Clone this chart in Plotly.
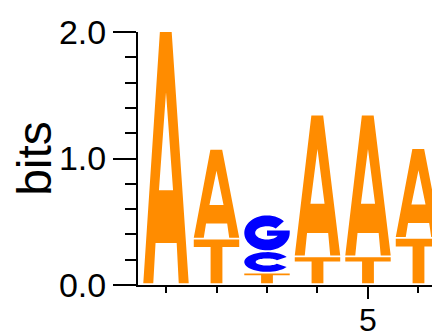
import numpy as np
import plotly.graph_objects as go

# ---- data (information content in bits, per position) ----
positions = [1, 2, 3, 4, 5, 6]
bits_A = [2.00, 0.71, 0.00, 1.12, 1.12, 0.71]
bits_T = [0.00, 0.36, 0.09, 0.22, 0.22, 0.365]
bits_C = [0.00, 0.00, 0.17, 0.00, 0.00, 0.00]
bits_G = [0.00, 0.00, 0.29, 0.00, 0.00, 0.00]
letter_colors = {"A": "#FF8C00", "T": "#FF8C00", "C": "#0000FF", "G": "#0000FF"}
y_tick_vals = [0.0, 1.0, 2.0]
x_tick_vals = [5]
y_title = "bits"

LETTER_W = 0.9
GAP = 0.014


def ellipse_pts(rx, ry, a0, a1, n=48):
    t = np.radians(np.linspace(a0, a1, n))
    return list(zip(0.5 + rx * np.cos(t), 0.5 + ry * np.sin(t)))


def glyph(letter):
    """Letter outline(s) in a unit box."""
    if letter == "A":
        return [[(0, 0), (0.365, 1), (0.625, 1), (1, 0), (0.78, 0), (0.735, 0.16),
                 (0.27, 0.16), (0.22, 0)],
                [(0.345, 0.37), (0.655, 0.37), (0.5, 0.76)]]
    if letter == "T":
        b = 0.83
        return [[(0.37, 0), (0.63, 0), (0.63, b), (1, b), (1, 1), (0, 1), (0, b), (0.37, b)]]
    if letter == "C":
        return [ellipse_pts(0.5, 0.5, 30, 330) + ellipse_pts(0.25, 0.18, 330, 30)]
    if letter == "G":
        outer = ellipse_pts(0.5, 0.5, 42, 360)
        bar = [(1.0, 0.57), (0.5, 0.57), (0.5, 0.42)]
        a0 = -np.degrees(np.arcsin(0.08 / 0.19))
        inner = ellipse_pts(0.26, 0.19, a0, -318)
        return [outer + bar + inner]
    return []


def to_path(polys, xc, y0, y1):
    parts = []
    for poly in polys:
        pts = [(xc - LETTER_W / 2 + u * LETTER_W, y0 + v * (y1 - y0)) for u, v in poly]
        parts.append("M " + " L ".join(f"{x:.4f},{y:.4f}" for x, y in pts) + " Z")
    return " ".join(parts)


series = {"A": bits_A, "T": bits_T, "C": bits_C, "G": bits_G}
shapes = []
tops = []
for i, pos in enumerate(positions):
    stack = sorted([(series[k][i], k) for k in series if series[k][i] > 0])
    base = 0.0
    for h, k in stack:
        shapes.append(dict(type="path", xref="x", yref="y",
                           path=to_path(glyph(k), pos, base + GAP, base + h),
                           fillcolor=letter_colors[k], line=dict(width=0),
                           fillrule="evenodd", layer="above"))
        base += h
    tops.append(base)

fig = go.Figure()
fig.add_trace(go.Scatter(x=positions, y=tops, mode="markers",
                         marker=dict(opacity=0), hoverinfo="skip", showlegend=False))
# the page body adds an 8px offset, so the figure is sized 8px smaller
fig.update_layout(
    width=432, height=327,
    margin=dict(l=130, r=0, t=24, b=50, autoexpand=False),
    plot_bgcolor="white", paper_bgcolor="white",
    font=dict(family="Liberation Sans, Arial, sans-serif", color="black"),
    shapes=shapes, showlegend=False,
)
fig.update_xaxes(
    range=[0.4455, 6.426], showgrid=False, zeroline=False, automargin=False,
    showline=True, linecolor="black", linewidth=2,
    ticks="outside", tickmode="array", tickvals=x_tick_vals,
    ticktext=[str(v) for v in x_tick_vals], ticklen=12, tickwidth=2, tickcolor="black",
    tickfont=dict(size=32), ticklabelstandoff=-6,
    minor=dict(ticks="outside", tick0=0, dtick=1, ticklen=6, tickwidth=2, tickcolor="black"),
)
fig.update_yaxes(
    range=[0, 2], showgrid=False, zeroline=False, automargin=False,
    showline=True, linecolor="black", linewidth=2,
    ticks="outside", tickmode="array", tickvals=y_tick_vals,
    ticktext=[f"{v:.1f}" for v in y_tick_vals], ticklen=23, tickwidth=2, tickcolor="black",
    tickfont=dict(size=34),
    minor=dict(ticks="outside", tick0=0, dtick=0.2, ticklen=11, tickwidth=2, tickcolor="black"),
    title=dict(text=y_title, font=dict(size=48), standoff=6),
)
fig.write_html("out.html")
